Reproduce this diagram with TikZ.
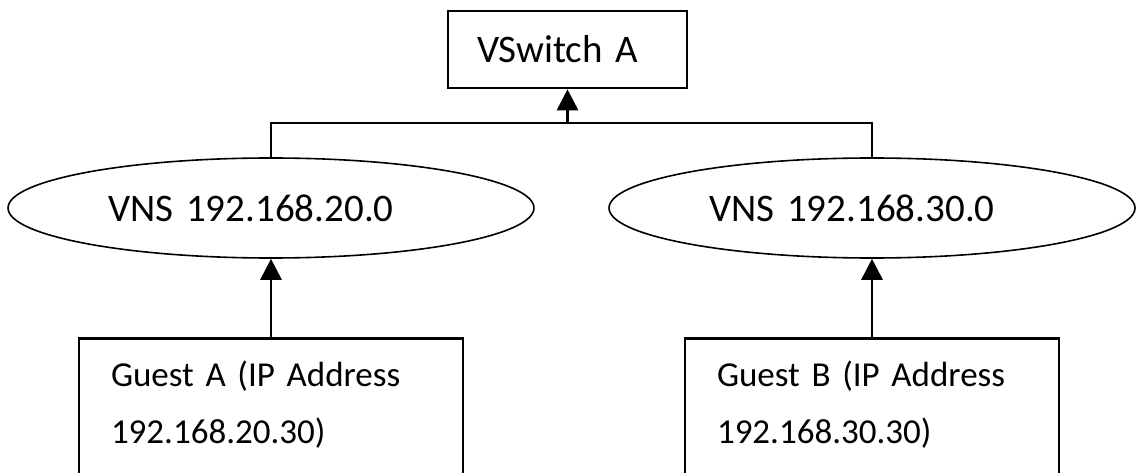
\documentclass[tikz,border=0pt]{standalone}
\usepackage{fontspec}
\setmainfont{Carlito}
\usetikzlibrary{shapes.geometric}
\usetikzlibrary{arrows.meta}

\tikzset{
  boxnode/.style={draw,line width=2.6pt,rectangle,inner sep=0pt},
  netnode/.style={draw,line width=1.6pt,ellipse,inner sep=0pt,
    minimum width=526pt,minimum height=100pt,text width=326pt,align=left},
  link/.style={line width=2.8pt},
  uparrow/.style={link,-{Triangle[length=21pt,width=21pt]}}
}

\begin{document}
\begin{tikzpicture}[x=1pt,y=1pt,font=\fontsize{39}{57}\selectfont]
    \useasboundingbox (0,0) rectangle (1136,472);
    \node[boxnode,minimum width=239pt,minimum height=77pt,text width=181pt,align=left]
      (vswitch) at (567.5,422.5) {VSwitch A};
    % networks and guests below them
    \foreach \g/\x/\net/\tw in {A/271/20/320,B/872/30/310} {
      \node[netnode] (vns\g) at (\x,264) {VNS 192.168.\net.0};
      \node[boxnode,anchor=north,text width=\tw pt,align=left,inner xsep=32pt,
        text height=48pt,text depth=110pt,font=\fontsize{35}{57}\selectfont]
        (guest\g) at (\x,135) {Guest \g{} (IP Address\\192.168.\net.30)};
      \draw[uparrow] (guest\g) -- (vns\g);
    }
    \coordinate (bus) at (567.5,349);
    \draw[link] (vnsA.north) |- (bus) -| (vnsB.north);
    \draw[uparrow] (bus) -- (vswitch.south);
  \end{tikzpicture}
\end{document}
